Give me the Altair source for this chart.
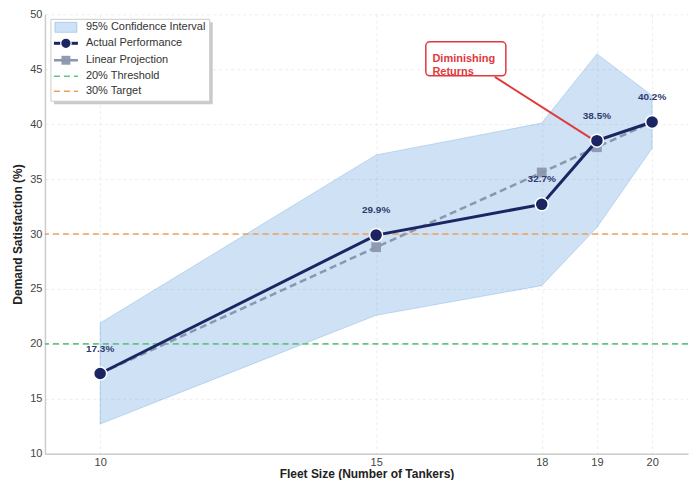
import altair as alt
import pandas as pd

# ---- data ----
fleet = [10, 15, 18, 19, 20]
actual = [17.3, 29.9, 32.7, 38.5, 40.2]
projection = [17.3, 28.8, 35.6, 37.9, 40.2]
ci_low = [12.7, 22.6, 25.3, 30.6, 37.8]
ci_high = [21.9, 37.2, 40.1, 46.4, 42.6]
threshold_20 = [20]
target_30 = [30]
annot_text = ["Diminishing", "Returns"]
annot_box = {"x": 15.9, "x2": 17.35, "y": 44.4, "y2": 47.5}
annot_text_pos = {"x": 16.02, "y": 45.95}
annot_start = {"x": 17.15, "y": 44.3}
annot_end = {"x": 18.88, "y": 38.75}

df = pd.DataFrame({
    "fleet": fleet, "actual": actual, "projection": projection,
    "ci_low": ci_low, "ci_high": ci_high,
    "label": [f"{v:.1f}%" for v in actual],
})

NAVY = "#1b2561"
GRAY = "#8a97ae"
BLUE = "#4a90d9"
GREEN = "#62c487"
ORANGE = "#f0a056"
RED = "#e0393e"

xscale = alt.Scale(domain=[9, 20.65], nice=False, zero=False)
yscale = alt.Scale(domain=[10, 50], nice=False, zero=False)
xaxis = alt.Axis(values=fleet, format="d", title="Fleet Size (Number of Tankers)")
yaxis = alt.Axis(values=list(range(10, 51, 5)), format="d", title="Demand Satisfaction (%)")

X = alt.X("fleet:Q", scale=xscale, axis=xaxis)

base = alt.Chart(df)

band = base.mark_area(fill=BLUE, fillOpacity=0.27, stroke=BLUE, strokeOpacity=0.35,
                      strokeWidth=0.8).encode(
    x=X, y=alt.Y("ci_low:Q", scale=yscale, axis=yaxis), y2="ci_high:Q")

thr = alt.Chart(pd.DataFrame({"v": threshold_20})).mark_rule(
    color=GREEN, strokeWidth=1.6, strokeDash=[6, 4]).encode(y=alt.Y("v:Q", scale=yscale))
tgt = alt.Chart(pd.DataFrame({"v": target_30})).mark_rule(
    color=ORANGE, strokeWidth=1.6, strokeDash=[6, 4]).encode(y=alt.Y("v:Q", scale=yscale))

proj_line = base.mark_line(color=GRAY, strokeWidth=2.5, strokeDash=[7, 4]).encode(
    x=X, y=alt.Y("projection:Q", scale=yscale))
proj_pts = base.mark_square(color=GRAY, size=95, opacity=0.95).encode(
    x=X, y=alt.Y("projection:Q", scale=yscale))

act_line = base.mark_line(color=NAVY, strokeWidth=3).encode(
    x=X, y=alt.Y("actual:Q", scale=yscale))
act_pts = base.mark_circle(color=NAVY, size=170, opacity=1, stroke="white",
                           strokeWidth=1.5).encode(
    x=X, y=alt.Y("actual:Q", scale=yscale))
labels = base.mark_text(dy=-25, fontSize=10, fontWeight="bold", color="#2e3b6e",
                        font="Liberation Sans").encode(
    x=X, y=alt.Y("actual:Q", scale=yscale), text="label:N")

# ---- annotation ----
one = alt.Data(values=[{}])
arrow = alt.Chart(one).mark_rule(color=RED, strokeWidth=2).encode(
    x=alt.datum(annot_start["x"], scale=xscale), y=alt.datum(annot_start["y"], scale=yscale),
    x2=alt.datum(annot_end["x"]), y2=alt.datum(annot_end["y"]))
box = alt.Chart(one).mark_rect(fill="white", stroke=RED, strokeWidth=1.5, cornerRadius=4).encode(
    x=alt.datum(annot_box["x"], scale=xscale), x2=alt.datum(annot_box["x2"]),
    y=alt.datum(annot_box["y"], scale=yscale), y2=alt.datum(annot_box["y2"]))
box_text = alt.Chart(one).mark_text(align="left", baseline="middle", fontSize=11,
                                    fontWeight="bold", color=RED, lineHeight=13,
                                    font="Liberation Sans").encode(
    x=alt.datum(annot_text_pos["x"], scale=xscale), y=alt.datum(annot_text_pos["y"], scale=yscale),
    text=alt.value(annot_text))

# ---- legend (drawn as decoration) ----
leg = []
leg.append(alt.Chart(one).mark_rect(fill="#888", opacity=0.45).encode(
    x=alt.value(9), x2=alt.value(168), y=alt.value(8), y2=alt.value(90)))
leg.append(alt.Chart(one).mark_rect(fill="white", stroke="#cccccc", strokeWidth=1).encode(
    x=alt.value(6), x2=alt.value(165), y=alt.value(5), y2=alt.value(87)))
rows = [13, 29, 46, 62, 77]
leg_names = ["95% Confidence Interval", "Actual Performance", "Linear Projection",
             "20% Threshold", "30% Target"]
leg.append(alt.Chart(one).mark_rect(fill=BLUE, fillOpacity=0.27, stroke=BLUE,
                                    strokeOpacity=0.35).encode(
    x=alt.value(10), x2=alt.value(32), y=alt.value(rows[0] - 5), y2=alt.value(rows[0] + 5)))
leg.append(alt.Chart(one).mark_rule(color=NAVY, strokeWidth=3).encode(
    x=alt.value(9), x2=alt.value(33), y=alt.value(rows[1])))
leg.append(alt.Chart(one).mark_circle(color=NAVY, size=110, opacity=1, stroke="white",
                                      strokeWidth=1.2).encode(
    x=alt.value(21), y=alt.value(rows[1])))
leg.append(alt.Chart(one).mark_rule(color=GRAY, strokeWidth=2.5).encode(
    x=alt.value(9), x2=alt.value(33), y=alt.value(rows[2])))
leg.append(alt.Chart(one).mark_square(color=GRAY, size=80, opacity=0.95).encode(
    x=alt.value(21), y=alt.value(rows[2])))
leg.append(alt.Chart(one).mark_rule(color=GREEN, strokeWidth=1.6, strokeDash=[6, 4]).encode(
    x=alt.value(9), x2=alt.value(33), y=alt.value(rows[3])))
leg.append(alt.Chart(one).mark_rule(color=ORANGE, strokeWidth=1.6, strokeDash=[6, 4]).encode(
    x=alt.value(9), x2=alt.value(33), y=alt.value(rows[4])))
for r, name in zip(rows, leg_names):
    leg.append(alt.Chart(one).mark_text(align="left", baseline="middle", fontSize=11,
                                        color="#333333", font="Liberation Sans").encode(
        x=alt.value(41), y=alt.value(r), text=alt.value(name)))

chart = alt.layer(
    band, thr, tgt, proj_line, proj_pts, act_line, act_pts, labels,
    arrow, box, box_text, *leg
).properties(
    width=644, height=440,
    padding={"left": 3, "top": 0, "right": 0, "bottom": 0},
).configure_view(stroke=None).configure_axis(
    labelFont="Liberation Sans", titleFont="Liberation Sans",
    labelFontSize=11, labelColor="#444444", titleFontSize=12, titleFontWeight="bold",
    titleColor="#222222", domainColor="#cccccc", domainWidth=1.5, ticks=False,
    labelPadding=3, gridColor="#e8e8e8", gridDash=[3, 3], gridWidth=0.8,
).configure_axisY(titlePadding=5).configure_axisX(titlePadding=1, labelPadding=3)

chart.save("out.html", embed_options={"renderer": "svg", "actions": False})
